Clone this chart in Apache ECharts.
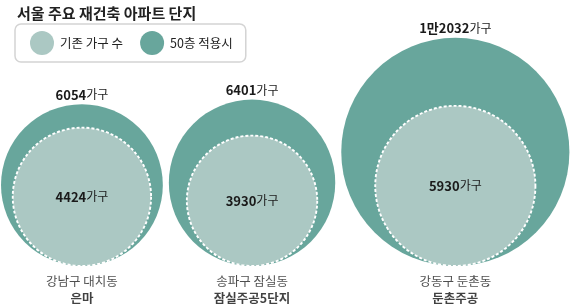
<!DOCTYPE html>
<html><head><meta charset="utf-8">
<script src="https://cdn.jsdelivr.net/npm/echarts@6/dist/echarts.min.js"></script>
<style>html,body{margin:0;padding:0;background:#fff}#c{width:570px;height:306px}</style>
</head><body><div id="c"></div>
<script>
var title = '서울 주요 재건축 아파트 단지';
var seriesNames = ['기존 가구 수', '50층 적용시'];
var districts = ['강남구 대치동', '송파구 잠실동', '강동구 둔촌동'];
var complexes = ['은마', '잠실주공5단지', '둔촌주공'];
var currentHouseholds = [4424, 3930, 5930];
var after50Floors = [6054, 6401, 12032];

var FONT = '"Noto Sans CJK KR", "Noto Sans", sans-serif';
var K = 1.04;          // px radius per sqrt(household)
var GAP = 6, START = 1;
function rad(v){ return K * Math.sqrt(v); }
// centers laid out from radii (circles packed side by side)
var centers = [];
var x = START;
after50Floors.forEach(function(v){ var r = rad(v); centers.push(x + r); x += 2 * r + GAP; });

function fmt(v){
  var s;
  if (v >= 10000) s = '{b|' + Math.floor(v / 10000) + '만' + String(v % 10000).padStart(4, '0') + '}';
  else s = '{b|' + v + '}';
  return s + '{n|가구}';
}
var rich = {
  b: {fontFamily: FONT, fontSize: 13, fontWeight: 'bold', color: '#1a1a1a'},
  n: {fontFamily: FONT, fontSize: 12, color: '#1a1a1a'}
};

var chart = echarts.init(document.getElementById('c'), null, {renderer: 'canvas'});
chart.setOption({
  animation: false,
  backgroundColor: '#fff',
  title: {text: title, left: 12, top: 1, textStyle: {fontFamily: FONT, fontSize: 15, fontWeight: 'bold', color: '#222'}},
  legend: {
    left: 15, top: 24, padding: [7, 13, 7, 15],
    borderColor: '#d4d4d4', borderWidth: 1.5, borderRadius: 6,
    itemWidth: 24, itemHeight: 24, itemGap: 17, icon: 'circle',
    textStyle: {fontFamily: FONT, fontSize: 12.5, color: '#222', padding: [0, 0, 0, 1]},
    data: [
      {name: seriesNames[0], itemStyle: {color: '#abc8c3', borderWidth: 0}},
      {name: seriesNames[1], itemStyle: {color: '#68a69c', borderWidth: 0}}
    ],
    selectedMode: false
  },
  grid: {left: 0, right: 0, top: 0, bottom: 40},
  xAxis: {type: 'value', min: 0, max: 570, show: false},
  yAxis: {type: 'value', min: 0, max: 1, show: false},
  series: [
    {
      name: seriesNames[1], type: 'scatter', z: 2,
      data: after50Floors.map(function(v, i){ return {value: [centers[i], 0], raw: v}; }),
      symbolSize: function(val, p){ return 2 * rad(after50Floors[p.dataIndex]); },
      symbolOffset: [0, '-50%'],
      itemStyle: {color: '#68a69c', opacity: 1},
      label: {show: true, position: 'top', distance: 3, rich: rich,
        formatter: function(p){ return fmt(after50Floors[p.dataIndex]); }},
      emphasis: {disabled: true}
    },
    {
      name: seriesNames[0], type: 'scatter', z: 3,
      data: currentHouseholds.map(function(v, i){ return [centers[i], 0]; }),
      symbolSize: function(val, p){ return 2 * rad(currentHouseholds[p.dataIndex]); },
      symbolOffset: [0, '-50%'],
      itemStyle: {color: '#abc8c3', borderColor: '#ffffff', borderWidth: 1.9, borderType: [3, 2], opacity: 1},
      label: {show: true, position: 'inside', rich: rich,
        formatter: function(p){ return fmt(currentHouseholds[p.dataIndex]); }},
      emphasis: {disabled: true}
    },
    {
      name: 'names', type: 'scatter', z: 4,
      data: districts.map(function(d, i){ return [centers[i], 0]; }),
      symbolSize: 1, itemStyle: {color: 'rgba(0,0,0,0)'},
      label: {show: true, position: 'bottom', distance: 6, lineHeight: 17, align: 'center',
        formatter: function(p){ return '{d|' + districts[p.dataIndex] + '}\n{c|' + complexes[p.dataIndex] + '}'; },
        rich: {
          d: {fontFamily: FONT, fontSize: 12.5, color: '#222', lineHeight: 17, align: 'center'},
          c: {fontFamily: FONT, fontSize: 12.5, fontWeight: 'bold', color: '#111', lineHeight: 17, align: 'center'}
        }},
      emphasis: {disabled: true}
    }
  ]
});
</script></body></html>
